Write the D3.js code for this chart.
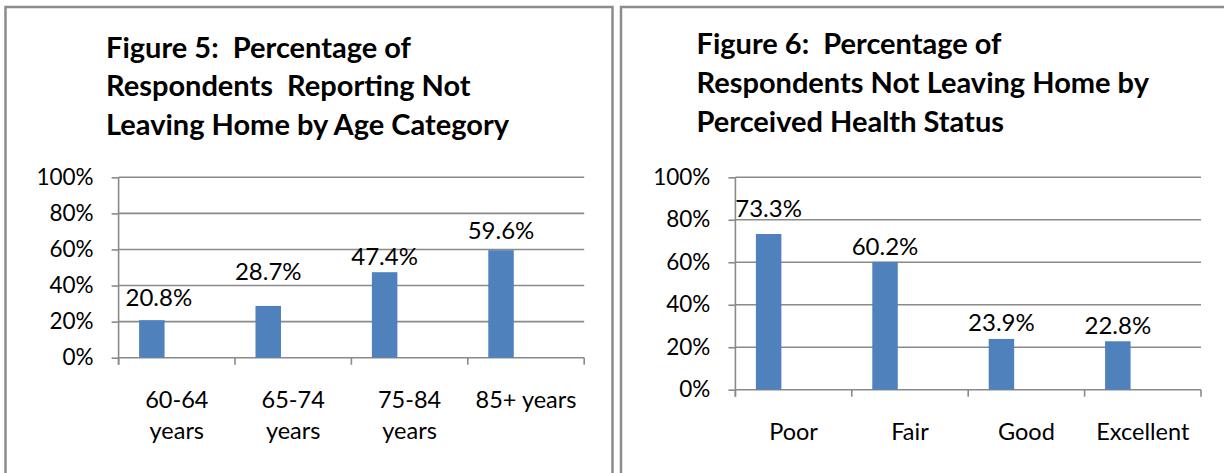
<!DOCTYPE html>
<html>
<head>
<meta charset="utf-8">
<script src="https://cdn.jsdelivr.net/npm/d3@7"></script>
<style>
  html, body { margin: 0; padding: 0; background: #fff; }
  svg { display: block; font-family: Lato, "Open Sans", sans-serif; }
  svg text { white-space: pre; }
</style>
</head>
<body>
<svg id="chart" width="1224" height="473"></svg>
<script>
// ---- data ----
const ageCategories = ["60-64\nyears", "65-74\nyears", "75-84\nyears", "85+ years"];
const ageValues = [0.208, 0.287, 0.474, 0.596];

const healthCategories = ["Poor", "Fair", "Good", "Excellent"];
const healthValues = [0.733, 0.602, 0.239, 0.228];

const yTicks = [0, 0.2, 0.4, 0.6, 0.8, 1.0];

const ageTitle = ["Figure 5:  Percentage of", "Respondents  Reporting Not", "Leaving Home by Age Category"];
const healthTitle = ["Figure 6:  Percentage of", "Respondents Not Leaving Home by", "Perceived Health Status"];

// ---- styles ----
const barColor = "#4f81bd";
const gridColor = "#8a8a8a";
const frameColor = "#8c8c8c";

const svg = d3.select("#chart");

// panel frames (they run off the bottom / right of the picture)
svg.append("rect").attr("x", 5.5).attr("y", 7).attr("width", 607).attr("height", 500)
    .attr("fill", "none").attr("stroke", frameColor).attr("stroke-width", 2.5);
svg.append("rect").attr("x", 621).attr("y", 7).attr("width", 640).attr("height", 500)
    .attr("fill", "none").attr("stroke", frameColor).attr("stroke-width", 2.5);

// label nudges copy the hand-placed data labels of the original
function drawChart(opts) {
    const x = d3.scaleBand()
        .domain(opts.categories)
        .range([opts.left, opts.right])
        .padding(0);
    const y = d3.scaleLinear().domain([0, 1]).range([opts.bottom, opts.top]);
    const g = svg.append("g");

    // title
    g.append("text")
        .attr("x", opts.titleX)
        .attr("y", opts.titleY)
        .attr("font-size", 29)
        .attr("font-weight", "bold")
        .attr("fill", "#000")
        .selectAll("tspan")
        .data(opts.title)
        .join("tspan")
        .attr("x", opts.titleX)
        .attr("dy", (d, i) => i === 0 ? 0 : 38.7)
        .text(d => d);

    // gridlines
    g.append("g")
        .selectAll("line")
        .data(yTicks)
        .join("line")
        .attr("x1", opts.left)
        .attr("x2", opts.right)
        .attr("y1", d => y(d))
        .attr("y2", d => y(d))
        .attr("stroke", gridColor)
        .attr("stroke-width", 1.6);

    // y axis
    const yAxis = g.append("g")
        .attr("transform", `translate(${opts.left},0)`)
        .call(d3.axisLeft(y).tickValues(yTicks).tickFormat(d3.format(".0%")).tickSize(7).tickPadding(18));
    yAxis.select(".domain").attr("stroke", gridColor).attr("stroke-width", 1.6)
        .attr("d", `M0,${opts.top}V${opts.bottom + 7}`);
    yAxis.selectAll(".tick line").attr("stroke", gridColor).attr("stroke-width", 1.6);
    yAxis.selectAll(".tick text").attr("font-size", 22.5).attr("fill", "#000")
        .attr("font-family", "Lato, sans-serif");

    // x axis ticks at category boundaries
    const bounds = opts.categories.map(c => x(c)).concat([opts.right]);
    g.append("g")
        .selectAll("line")
        .data(bounds)
        .join("line")
        .attr("x1", d => d).attr("x2", d => d)
        .attr("y1", opts.bottom).attr("y2", opts.bottom + 7)
        .attr("stroke", gridColor).attr("stroke-width", 1.6);

    // bars
    const bw = x.bandwidth();
    g.append("g")
        .selectAll("rect")
        .data(opts.values)
        .join("rect")
        .attr("x", (d, i) => x(opts.categories[i]) + bw * 0.176)
        .attr("width", bw * 0.219)
        .attr("y", d => y(d))
        .attr("height", d => y(0) - y(d))
        .attr("fill", barColor);

    // data labels
    g.append("g")
        .selectAll("text")
        .data(opts.values)
        .join("text")
        .attr("x", (d, i) => x(opts.categories[i]) + bw * 0.2855 + opts.labelShiftX[i])
        .attr("y", (d, i) => y(d) - 7 - opts.labelLift[i])
        .attr("text-anchor", "middle")
        .attr("font-size", 24)
        .attr("fill", "#000")
        .text(d => d3.format(".1%")(d));

    // category labels
    g.append("g")
        .selectAll("text")
        .data(opts.categories)
        .join("text")
        .attr("text-anchor", "middle")
        .attr("font-size", 23.5)
        .attr("fill", "#000")
        .attr("y", opts.bottom + 50)
        .each(function (d) {
            const t = d3.select(this);
            const cx = x(d) + bw / 2;
            d.split("\n").forEach((line, i) => {
                t.append("tspan").attr("x", cx).attr("dy", i === 0 ? 0 : 31.5).text(line);
            });
        });
}

drawChart({
    categories: ageCategories,
    values: ageValues,
    title: ageTitle,
    titleX: 106,
    titleY: 57.7,
    left: 118.6,
    right: 584.2,
    top: 177.3,
    bottom: 357.7,
    labelLift: [7, 19, 0, 4],
    labelShiftX: [7, 0, 0, 0]
});

drawChart({
    categories: healthCategories,
    values: healthValues,
    title: healthTitle,
    titleX: 696.5,
    titleY: 54.3,
    left: 735.4,
    right: 1201,
    top: 177.3,
    bottom: 389.7,
    labelLift: [10, 0, 1, 0],
    labelShiftX: [0, 0, 0, 0]
});
</script>
</body>
</html>
